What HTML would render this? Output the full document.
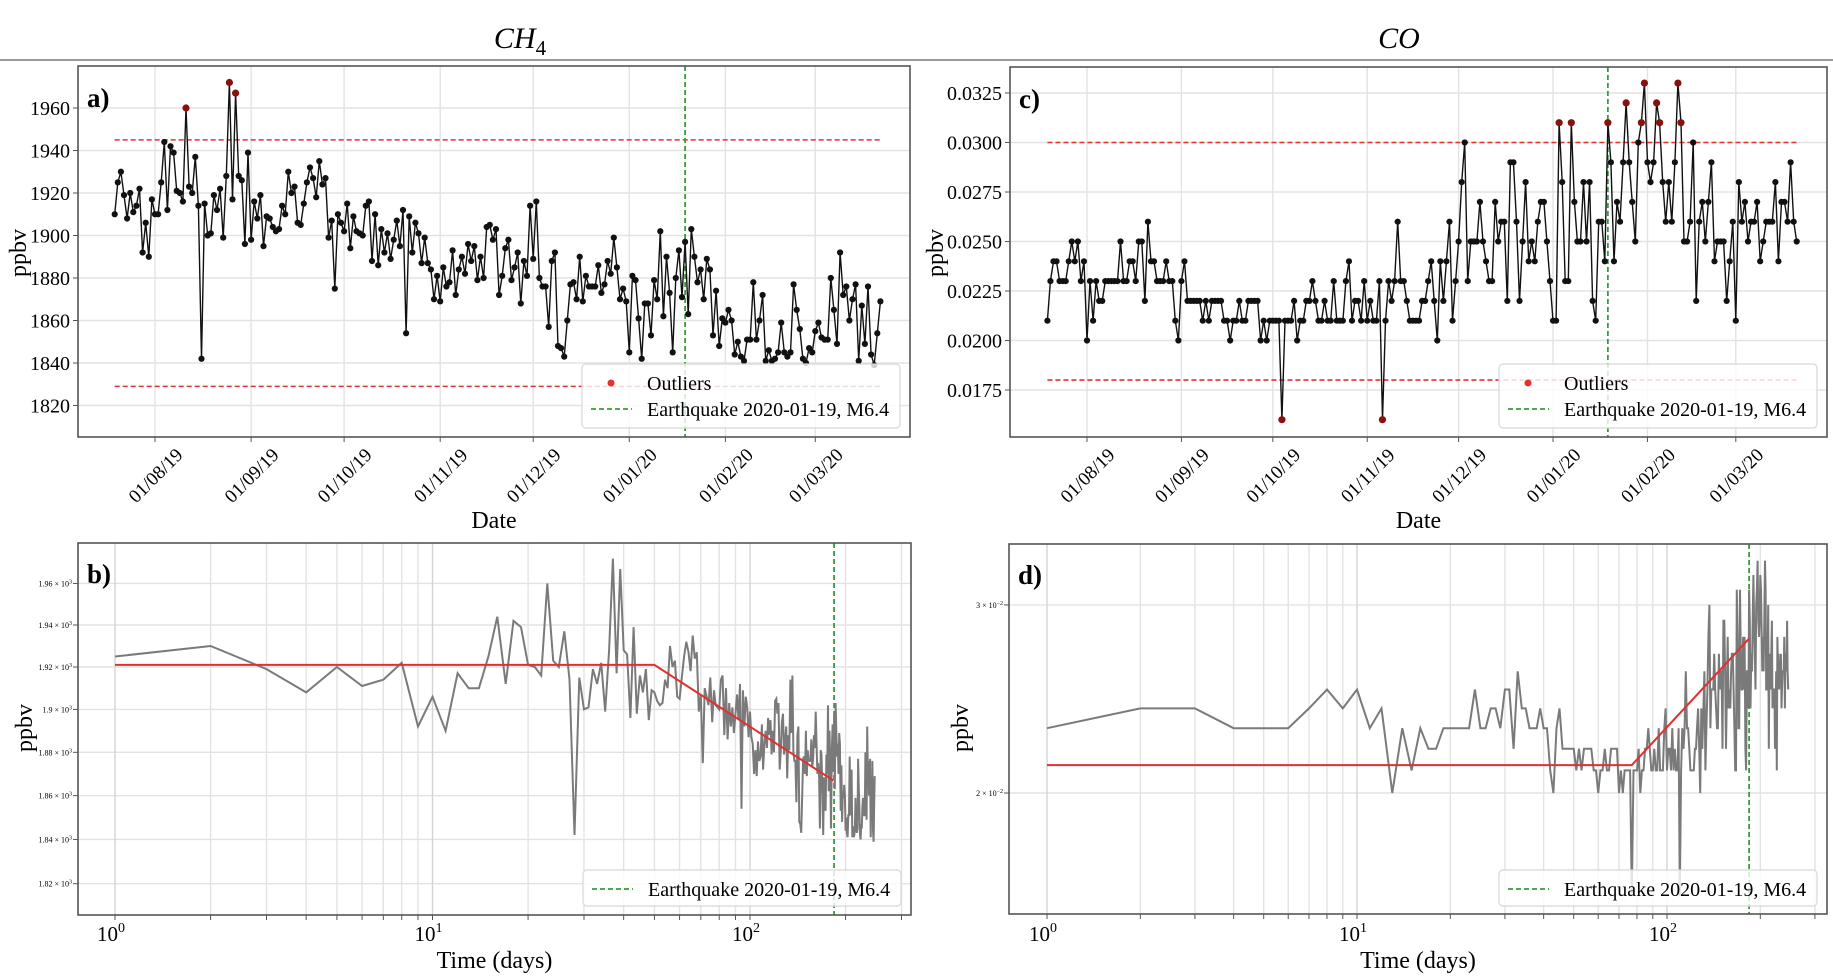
<!DOCTYPE html>
<html><head><meta charset="utf-8"><title>CH4 and CO time series</title>
<style>
html,body{margin:0;padding:0;background:#fff;}
svg{display:block;font-family:"Liberation Serif","DejaVu Serif",serif;}
</style></head>
<body>
<svg id="fig" width="1833" height="980" viewBox="0 0 1833 980" xmlns="http://www.w3.org/2000/svg">
<line x1="0" y1="60" x2="1833" y2="60" stroke="#9a9a9a" stroke-width="2"/>
<text x="520" y="48" font-size="30" text-anchor="middle"><tspan font-style="italic">CH</tspan><tspan font-size="21" dy="7">4</tspan></text>
<text x="1399" y="48" font-size="30" text-anchor="middle" font-style="italic">CO</text>
</svg>
<script>
// ---- data ----
const ch4Values = [1910,1925,1930,1919,1908,1920,1911,1914,1922,1892,1906,1890,1917,1910,1910,1925,1944,1912,1942,1939,
1921,1920,1916,1960,1923,1920,1937,1914,1842,1915,1900,1901,1919,1912,1922,1899,1928,1972,1917,1967,
1928,1926,1896,1939,1898,1916,1908,1919,1895,1909,1908,1904,1902,1903,1914,1910,1930,1920,1923,1906,
1905,1915,1925,1932,1927,1918,1935,1924,1927,1899,1907,1875,1910,1906,1902,1915,1894,1909,1902,1901,
1900,1914,1916,1888,1910,1886,1903,1892,1901,1889,1898,1907,1895,1912,1854,1909,1892,1906,1901,1887,
1899,1887,1884,1870,1881,1869,1885,1876,1878,1893,1872,1884,1890,1882,1896,1888,1895,1879,1890,1880,
1904,1905,1898,1903,1872,1881,1894,1898,1879,1885,1892,1868,1888,1881,1914,1889,1916,1880,1876,1876,
1857,1888,1892,1848,1847,1843,1860,1877,1878,1870,1890,1869,1881,1876,1876,1876,1886,1873,1877,1888,
1882,1899,1885,1870,1875,1869,1845,1881,1879,1861,1842,1868,1868,1853,1879,1870,1902,1862,1890,1873,
1845,1880,1893,1871,1897,1863,1903,1890,1878,1884,1870,1889,1884,1853,1874,1848,1861,1859,1865,1860,
1844,1850,1843,1841,1851,1851,1878,1851,1860,1872,1841,1846,1841,1842,1845,1859,1845,1843,1845,1877,
1865,1856,1842,1840,1847,1845,1855,1859,1852,1851,1851,1880,1865,1849,1892,1872,1876,1860,1870,1877,
1841,1867,1849,1876,1844,1839,1854,1869];
const coValues = [0.021,0.023,0.024,0.024,0.023,0.023,0.023,0.024,0.025,0.024,0.025,0.023,0.024,0.020,0.023,0.021,0.023,0.022,0.022,0.023,
0.023,0.023,0.023,0.023,0.025,0.023,0.023,0.024,0.024,0.023,0.025,0.025,0.022,0.026,0.024,0.024,0.023,0.023,0.023,0.024,
0.023,0.023,0.021,0.020,0.023,0.024,0.022,0.022,0.022,0.022,0.022,0.021,0.022,0.021,0.022,0.022,0.022,0.022,0.021,0.021,
0.020,0.021,0.021,0.022,0.021,0.021,0.022,0.022,0.022,0.022,0.020,0.021,0.020,0.021,0.021,0.021,0.021,0.016,0.021,0.021,
0.021,0.022,0.020,0.021,0.021,0.022,0.022,0.023,0.022,0.021,0.021,0.022,0.021,0.021,0.023,0.021,0.021,0.021,0.023,0.024,
0.021,0.022,0.022,0.021,0.023,0.021,0.022,0.021,0.021,0.023,0.016,0.021,0.023,0.022,0.023,0.026,0.023,
0.023,0.022,0.021,0.021,0.021,0.021,0.022,0.022,0.023,0.024,0.022,0.020,0.024,0.022,0.024,0.026,0.021,0.023,0.025,0.028,
0.030,0.023,0.025,0.025,0.025,0.027,0.025,0.024,0.023,0.023,0.027,0.025,0.026,0.026,0.022,0.029,0.029,0.026,0.022,0.025,
0.028,0.024,0.025,0.024,0.026,0.027,0.027,0.025,0.023,0.021,0.021,0.031,0.028,0.023,0.023,0.031,0.027,0.025,0.025,0.028,
0.025,0.028,0.022,0.021,0.026,0.026,0.024,0.031,0.029,0.024,0.027,0.026,0.029,0.032,0.029,0.027,0.025,0.030,0.031,0.033,
0.029,0.028,0.029,0.032,0.031,0.028,0.026,0.028,0.026,0.029,0.033,0.031,0.025,0.025,0.026,0.030,0.022,0.026,0.027,0.025,
0.027,0.029,0.024,0.025,0.025,0.025,0.022,0.024,0.026,0.021,0.028,0.026,0.027,0.025,0.026,0.026,0.027,0.024,0.025,0.026,
0.026,0.026,0.028,0.024,0.027,0.027,0.026,0.029,0.026,0.025];
const monthTickDays = [13,44,74,105,135,166,197,226];
const monthTickLabels = ["01/08/19","01/09/19","01/10/19","01/11/19","01/12/19","01/01/20","01/02/20","01/03/20"];
const ch4Ticks = [1820,1840,1860,1880,1900,1920,1940,1960];
const coTicks = [0.0175,0.0200,0.0225,0.0250,0.0275,0.0300,0.0325];
const ch4LogTicks = [1820,1840,1860,1880,1900,1920,1940,1960];
const ch4LogTickLabels = ["1.82","1.84","1.86","1.88","1.9","1.92","1.94","1.96"];
const coLogTicks = [0.02,0.03];
const coLogTickLabels = ["2","3"];
const ch4Bounds = [1829,1945];
const coBounds = [0.018,0.030];
const quakeDay = 184;
const ch4Fit = [[1,1921],[50,1921],[183,1867]];
const coFit = [[1,0.02124],[77,0.02124],[184,0.0279]];

// ---- helpers ----
const svg = document.getElementById('fig');
const NS = 'http://www.w3.org/2000/svg';
function mk(tag, attrs, parent){
  const e = document.createElementNS(NS, tag);
  for (const k in attrs) e.setAttribute(k, attrs[k]);
  (parent||svg).appendChild(e);
  return e;
}
const GRID = '#e3e3e3';

// axes definitions
const axA = {x0:78,x1:910,y0:66,y1:437, xs:d=>114.7+3.10*d, ys:v=>108+(1960-v)*2.125};
const axC = {x0:1010,x1:1827,y0:67,y1:437, xs:d=>1047.4+3.046*d, ys:v=>93+(0.0325-v)*19800};
const axB = {x0:78,x1:911,y0:543,y1:915, xs:t=>115+317.5*Math.log10(t), ys:v=>667-(Math.log10(v)-Math.log10(1920))*9330};
const axD = {x0:1009,x1:1827,y0:544,y1:914, xs:t=>1047+310*Math.log10(t), ys:v=>793-(Math.log10(v)-Math.log10(0.02))*1068};

function panelGroup(name){
  const g = mk('g',{});
  
  
  return g;
}
function frame(ax, g){
  const r = mk('rect',{x:ax.x0,y:ax.y0,width:ax.x1-ax.x0,height:ax.y1-ax.y0,fill:'none',stroke:'#555','stroke-width':1.6}, g);
  
  
}
function hgrid(ax, y, g){
  mk('line',{x1:ax.x0,x2:ax.x1,y1:y,y2:y,stroke:GRID,'stroke-width':1.4}, g);
  mk('line',{x1:ax.x0-5,x2:ax.x0,y1:y,y2:y,stroke:'#555','stroke-width':1}, g);
}
function vgrid(ax, x, g, c){
  mk('line',{x1:x,x2:x,y1:ax.y0,y2:ax.y1,stroke:c||GRID,'stroke-width':1.4}, g);
  mk('line',{x1:x,x2:x,y1:ax.y1,y2:ax.y1+5,stroke:'#555','stroke-width':1}, g);
}
function txt(str, attrs, g, name){
  const t = mk('text', attrs, g);
  t.textContent = str;
  
  
  return t;
}
function quake(ax, x, g){
  const l = mk('line',{x1:x,x2:x,y1:ax.y0,y2:ax.y1,stroke:'#3a9a3a','stroke-width':1.8,'stroke-dasharray':'5,3'}, g);
  
  
}
function legend(x, y, w, h, withOutliers, g){
  const lg = mk('g',{}, g);
  
  
  mk('rect',{x:x,y:y,width:w,height:h,rx:4,fill:'#fff','fill-opacity':0.8,stroke:'#d8d8d8','stroke-width':1.2}, lg);
  let yy = y + 19;
  if (withOutliers){
    const d = mk('circle',{cx:x+29,cy:yy,r:3.5,fill:'#e53030'}, lg);
    
    
    txt('Outliers',{x:x+65,y:yy+7,'font-size':20}, lg, 'legend-outliers-label');
    yy += 26;
  }
  mk('line',{x1:x+9,x2:x+50,y1:yy,y2:yy,stroke:'#3a9a3a','stroke-width':1.8,'stroke-dasharray':'5,3'}, lg);
  txt('Earthquake 2020-01-19, M6.4',{x:x+65,y:yy+7,'font-size':20}, lg, 'legend-earthquake-label');
}

// ---- panel a / c (time series with outliers) ----
function seriesPanel(ax, vals, ticks, fmt, bounds, name, letter, ylx){
  const g = panelGroup(name);
  ticks.forEach(v=>{
    const y = ax.ys(v);
    hgrid(ax, y, g);
    txt(fmt(v),{x:ax.x0-8,y:y+7,'font-size':20,'text-anchor':'end'}, g, 'y-tick-label');
  });
  monthTickDays.forEach((d,i)=>{
    const x = ax.xs(d);
    vgrid(ax, x, g);
    txt(monthTickLabels[i],{x:x,y:482,'font-size':19,'text-anchor':'middle',transform:`rotate(-45 ${x} 475)`}, g, 'x-tick-label');
  });
  bounds.forEach(b=>{
    const l = mk('line',{x1:ax.xs(0),x2:ax.xs(vals.length-1),y1:ax.ys(b),y2:ax.ys(b),stroke:'#e53030','stroke-width':1.6,'stroke-dasharray':'5,3'}, g);
    
    
  });
  quake(ax, ax.xs(quakeDay), g);
  const pts = vals.map((v,i)=>ax.xs(i).toFixed(1)+','+ax.ys(v).toFixed(1)).join(' ');
  const pl = mk('polyline',{points:pts,fill:'none',stroke:'#111','stroke-width':1.4}, g);
  
  
  vals.forEach((v,i)=>{
    const out = v > bounds[1] || v < bounds[0];
    const c = mk('circle',{cx:ax.xs(i),cy:ax.ys(v),r:out?3.6:3.1,fill:out?'#8a1010':'#111'}, g);
    
    
  });
  frame(ax, g);
  txt(letter,{x:ax.x0+9,y:ax.y0+41,'font-size':27,'font-weight':'bold'}, g, 'panel-label');
  txt('ppbv',{x:ylx,y:253,'font-size':24,'text-anchor':'middle',transform:`rotate(-90 ${ylx} 253)`,dy:8}, g, 'y-axis-title');
  txt('Date',{x:(ax.x0+ax.x1)/2,y:528,'font-size':24,'text-anchor':'middle'}, g, 'x-axis-title');
  legend(ax.x1-328, 364, 318, 64, true, g);
}
seriesPanel(axA, ch4Values, ch4Ticks, v=>String(v), ch4Bounds, 'panel-a-ch4', 'a)', 18);
seriesPanel(axC, coValues, coTicks, v=>v.toFixed(4), coBounds, 'panel-c-co', 'c)', 935);

// ---- panel b / d (log-log) ----
function logPanel(ax, vals, ticks, labels, expStr, fit, name, letter, ylx, tmax){
  const g = panelGroup(name);
  ticks.forEach((v,i)=>{
    const y = ax.ys(v);
    hgrid(ax, y, g);
    const t = txt('',{x:ax.x0-6,y:y+3,'font-size':8,'text-anchor':'end'}, g, 'y-tick-label');
    t.textContent = labels[i] + ' × 10';
    const s = mk('tspan',{dy:-3,'font-size':6}, t);
    s.textContent = expStr;
  });
  for (let k=0;k<3;k++){
    for (let m=1;m<10;m++){
      const t = m*Math.pow(10,k);
      if (t>tmax) break;
      vgrid(ax, ax.xs(t), g, m===1?'#d4d4d4':GRID);
    }
  }
  [0,1,2].forEach(k=>{
    const x = ax.xs(Math.pow(10,k));
    const t = txt('10',{x:x-4,y:941,'font-size':21,'text-anchor':'middle'}, g, 'x-tick-label');
    const s = mk('tspan',{dy:-9,'font-size':14}, t);
    s.textContent = String(k);
  });
  quake(ax, ax.xs(quakeDay), g);
  const pts = vals.slice(1).map((v,i)=>ax.xs(i+1).toFixed(1)+','+ax.ys(v).toFixed(1)).join(' ');
  const pl = mk('polyline',{points:pts,fill:'none',stroke:'#7a7a7a','stroke-width':2}, g);
  
  
  const fpts = fit.map(p=>ax.xs(p[0]).toFixed(1)+','+ax.ys(p[1]).toFixed(1)).join(' ');
  const fl = mk('polyline',{points:fpts,fill:'none',stroke:'#e03030','stroke-width':2}, g);
  
  
  frame(ax, g);
  txt(letter,{x:ax.x0+9,y:ax.y0+40,'font-size':27,'font-weight':'bold'}, g, 'panel-label');
  txt('ppbv',{x:ylx,y:728,'font-size':24,'text-anchor':'middle',transform:`rotate(-90 ${ylx} 728)`,dy:8}, g, 'y-axis-title');
  txt('Time (days)',{x:(ax.x0+ax.x1)/2,y:968,'font-size':24,'text-anchor':'middle'}, g, 'x-axis-title');
  legend(ax.x1-328, 870, 318, 36, false, g);
}
logPanel(axB, ch4Values, ch4LogTicks, ch4LogTickLabels, '3', ch4Fit, 'panel-b-ch4-log', 'b)', 24, 320);
logPanel(axD, coValues, coLogTicks, coLogTickLabels, '−2', coFit, 'panel-d-co-log', 'd)', 960, 320);
</script>
</body></html>
